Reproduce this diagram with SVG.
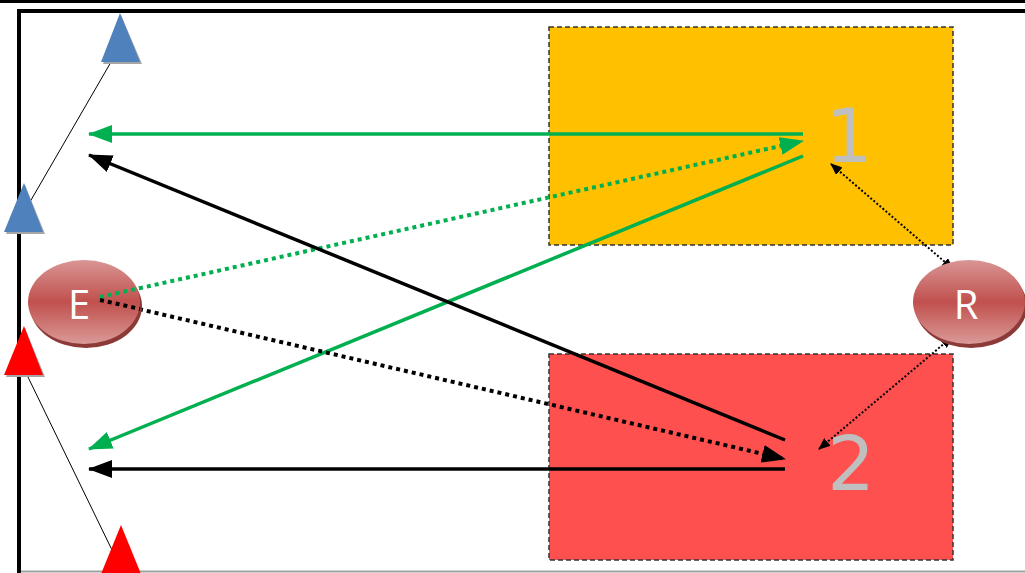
<svg xmlns="http://www.w3.org/2000/svg" width="1025" height="573" viewBox="0 0 1025 573">
<style>
.zone{stroke:#333333;stroke-width:1.5;stroke-dasharray:5 3}
.num{font-family:"DejaVu Sans","Open Sans",sans-serif;font-size:75px;fill:#BFBFBF;text-anchor:middle}
.lbl{font-family:"Open Sans","DejaVu Sans",sans-serif;font-size:40px;fill:#FFFFFF;text-anchor:middle}
.g{stroke:#00B050;fill:none}
.k{stroke:#000;fill:none}
.thick{stroke-width:3.5}
.dot{stroke-width:4;stroke-dasharray:4 4}
.fine{stroke-width:2;stroke-dasharray:2 2}
.thin{stroke:#000;stroke-width:1;fill:none}
</style>
<defs>
<linearGradient id="ell" x1="0" y1="0" x2="0" y2="1">
<stop offset="0" stop-color="#D99694"/>
<stop offset="0.5" stop-color="#C0504D"/>
<stop offset="1" stop-color="#DA9A98"/>
</linearGradient>
<marker id="ag" viewBox="0 0 24 18" refX="23" refY="9" markerWidth="24" markerHeight="18" markerUnits="userSpaceOnUse" orient="auto">
<path d="M0 0 L24 9 L0 18 Z" fill="#00B050"/>
</marker>
<marker id="ak" viewBox="0 0 24 18" refX="23" refY="9" markerWidth="24" markerHeight="18" markerUnits="userSpaceOnUse" orient="auto">
<path d="M0 0 L24 9 L0 18 Z" fill="#000"/>
</marker>
<marker id="af" viewBox="0 0 12 10" refX="11" refY="5" markerWidth="12" markerHeight="10" markerUnits="userSpaceOnUse" orient="auto-start-reverse">
<path d="M0 0 L12 5 L0 10 Z" fill="#000"/>
</marker>
</defs>
<rect x="0" y="0" width="1025" height="573" fill="#FFFFFF"/>
<rect x="0" y="0" width="1025" height="3" fill="#000"/>
<line x1="21" y1="571.5" x2="1025" y2="571.5" stroke="#A0A0A0" stroke-width="2"/>
<path d="M19 573 V11 H1025" fill="none" stroke="#000" stroke-width="4"/>
<g id="zone1">
<rect class="zone" x="549" y="27" width="404" height="218" fill="#FFC000"/>
<text class="num" x="849" y="162">1</text>
</g>
<g id="zone2">
<rect class="zone" x="549" y="354" width="404" height="206" fill="#FF5050"/>
<text class="num" x="851" y="490">2</text>
</g>
<g id="connectors">
<line class="thin" x1="111" y1="62" x2="27" y2="207"/>
<line class="thin" x1="27" y1="375" x2="112" y2="550"/>
<line class="g thick" x1="803" y1="134" x2="89" y2="134" marker-end="url(#ag)"/>
<line class="g thick" x1="803" y1="156" x2="89" y2="449" marker-end="url(#ag)"/>
<line class="g dot" x1="100" y1="297" x2="803" y2="141" marker-end="url(#ag)"/>
<line class="k thick" x1="785" y1="440" x2="89" y2="155" marker-end="url(#ak)"/>
<line class="k thick" x1="785" y1="469" x2="89" y2="469" marker-end="url(#ak)"/>
<line class="k dot" x1="100" y1="300" x2="785" y2="459" marker-end="url(#ak)"/>
<line class="k fine" x1="831" y1="164" x2="953" y2="269" marker-start="url(#af)" marker-end="url(#af)"/>
<line class="k fine" x1="952" y1="337" x2="819" y2="449" marker-start="url(#af)" marker-end="url(#af)"/>
</g>
<g id="triangle-blue-top">
<path d="M103 64 L121 15 L142 64 Z" fill="#A6A6A6"/>
<path d="M101 62 L120 13 L140 62 Z" fill="#4F81BD"/>
</g>
<g id="triangle-blue-mid">
<path d="M6 234 L25 185 L45 234 Z" fill="#A6A6A6"/>
<path d="M4 232 L24 183 L43 232 Z" fill="#4F81BD"/>
</g>
<g id="triangle-red-mid">
<path d="M6 377 L25 328 L45 377 Z" fill="#A6A6A6"/>
<path d="M4 375 L24 326 L43 375 Z" fill="#FF0000"/>
</g>
<g id="triangle-red-bottom">
<path d="M101 574 L121 525 L141 574 Z" fill="#FF0000"/>
</g>
<g id="node-E">
<ellipse cx="86" cy="306" rx="56" ry="42" fill="#8C3A38"/>
<ellipse cx="84" cy="302" rx="56" ry="42" fill="url(#ell)"/>
<text class="lbl" x="79" y="319">E</text>
<line class="g dot" x1="100" y1="297" x2="140" y2="288"/>
<line class="k dot" x1="100" y1="300" x2="140" y2="309"/>
</g>
<g id="node-R">
<ellipse cx="971" cy="306" rx="56" ry="42" fill="#8C3A38"/>
<ellipse cx="969" cy="302" rx="56" ry="42" fill="url(#ell)"/>
<text class="lbl" x="966" y="319">R</text>
</g>
</svg>
